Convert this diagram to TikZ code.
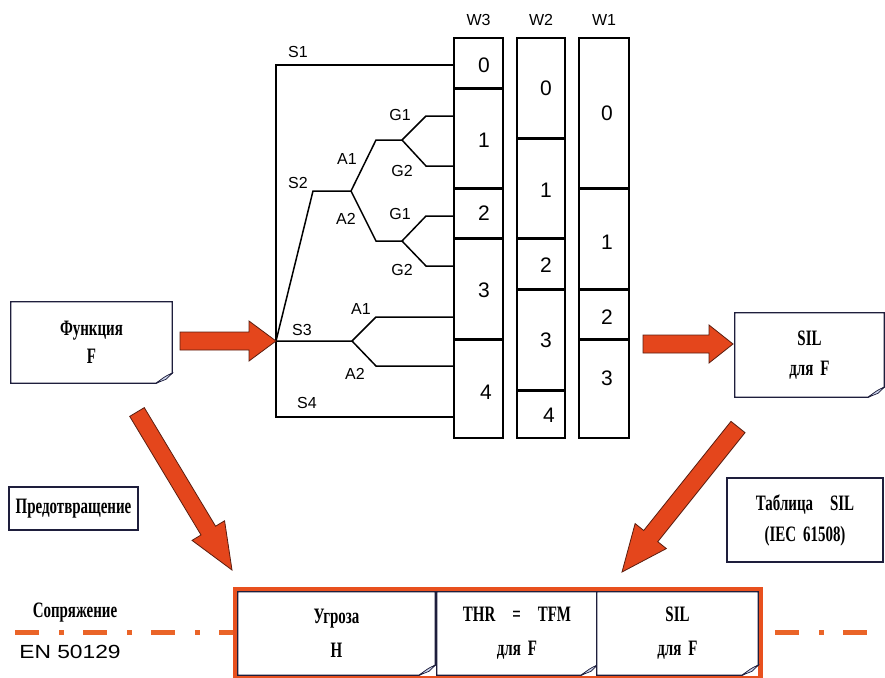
\documentclass[tikz,border=0pt]{standalone}
\usepackage{fontspec}
\usetikzlibrary{calc}
\setmainfont{Liberation Serif}
\newfontfamily\notefont[FakeStretch=0.68]{Liberation Serif}
\newfontfamily\tagfont{Liberation Sans}
\newfontfamily\stdfont[FakeStretch=1.2]{Liberation Sans}
\definecolor{edgeblue}{HTML}{1E1E3C}
\definecolor{arrowred}{HTML}{E4461C}
\definecolor{arrowedge}{HTML}{5A1E10}
\definecolor{framered}{HTML}{E8501E}
\definecolor{dashorange}{HTML}{EA6428}
\definecolor{foldblue}{HTML}{C8D0E8}

% outline of a sheet with a turned-up corner
\newcommand\noteedge[1]{%
  \draw[edgeblue, line width=1.3pt] (#1.north west) -- (#1.north east) -- ([yshift=10pt]#1.south east) -- ([xshift=-16pt]#1.south east) -- (#1.south west) -- cycle;
  \filldraw[draw=edgeblue, fill=foldblue, line width=0.7pt] ([xshift=-16pt]#1.south east) -- ([xshift=-6pt,yshift=4pt]#1.south east) -- ([yshift=10pt]#1.south east) .. controls ([xshift=-7pt,yshift=7pt]#1.south east) .. ([xshift=-16pt]#1.south east);
}
% block arrow: from, to, body half width, head half width, head length
\newcommand\fatarrow[5]{%
  \coordinate (fa-h) at ($(#2)!#5pt!(#1)$);
  \filldraw[arrowbody] ($(#1)!#3pt!90:(#2)$) -- ($(fa-h)!#3pt!-90:(#1)$) -- ($(fa-h)!#4pt!-90:(#1)$) -- (#2)
    -- ($(fa-h)!#4pt!90:(#1)$) -- ($(fa-h)!#3pt!90:(#1)$) -- ($(#1)!#3pt!-90:(#2)$) -- cycle;
}
\newcommand\wgap{\hspace*{17pt}}
\newcommand\ngap{\hspace*{7pt}}

\begin{document}
\begin{tikzpicture}[x=1pt, y=-1pt,
    note/.style={fill=white, font=\notefont\bfseries\fontsize{22}{30}\selectfont, align=center, inner sep=0pt},
    plainbox/.style={note, draw=edgeblue, line width=1.3pt},
    tag/.style={font=\tagfont\fontsize{16}{18}\selectfont, inner sep=0pt},
    digit/.style={font=\tagfont\fontsize{21}{23}\selectfont, inner sep=0pt},
    wire/.style={line width=1.5pt},
    column/.style={draw, line width=1.4pt, minimum height=400pt, inner sep=0pt},
    sep/.style={line width=3pt},
    link/.style={draw=dashorange, line width=5pt, dash pattern=on 24pt off 20pt on 5pt off 19pt},
    arrowbody/.style={fill=arrowred, draw=arrowedge, line width=0.8pt, line join=miter}]
  \useasboundingbox (0,0) rectangle (885,677);

  % weight columns
  \node[column, minimum width=49pt] (w3) at (478.5,238) {};
  \node[column, minimum width=48pt] (w2) at (541,238) {};
  \node[column, minimum width=50pt] (w1) at (604,238) {};
  \node[tag] (hw3) at (478.5,20) {W3};
  \node[tag] (hw2) at (541,20) {W2};
  \node[tag] (hw1) at (604,20) {W1};
  \foreach \y in {88,188,238,339} \draw[sep] (454,\y) -- (503,\y);
  \foreach \y in {138,238,289,390} \draw[sep] (517,\y) -- (565,\y);
  \foreach \y in {188,289,339} \draw[sep] (579,\y) -- (629,\y);
  \foreach \x/\y/\t [count=\i] in {484/65/0, 484/140/1, 484/213/2, 484/290/3, 486/392/4,
      546/88/0, 546/190/1, 546/265/2, 546/340/3, 549/415/4,
      607/113/0, 607/242/1, 607/317/2, 607/378/3}
    \node[digit] (d\i) at (\x,\y) {\t};

  % risk graph
  \coordinate (root) at (276,341);
  \coordinate (top) at (276,65);
  \coordinate (bot) at (276,417);
  \coordinate (s2a) at (313,191);
  \coordinate (s2b) at (351,191);
  \coordinate (a1a) at (376,140);
  \coordinate (a1b) at (402,140);
  \coordinate (g11) at (426,116);
  \coordinate (g12) at (426,166);
  \coordinate (a2a) at (376,241);
  \coordinate (a2b) at (402,241);
  \coordinate (g21) at (426,216);
  \coordinate (g22) at (426,266);
  \coordinate (s3b) at (352,341);
  \coordinate (s3u) at (376,317);
  \coordinate (s3d) at (376,366);
  \draw[wire] (w3.west |- top) -- (top) -- (bot) -- (w3.west |- bot);
  \draw[wire] (root) -- (s2a) -- (s2b) -- (a1a) -- (a1b) -- (g11) -- (g11 -| w3.west);
  \draw[wire] (a1b) -- (g12) -- (g12 -| w3.west);
  \draw[wire] (s2b) -- (a2a) -- (a2b) -- (g21) -- (g21 -| w3.west);
  \draw[wire] (a2b) -- (g22) -- (g22 -| w3.west);
  \draw[wire] (root) -- (s3b) -- (s3u) -- (s3u -| w3.west);
  \draw[wire] (s3b) -- (s3d) -- (s3d -| w3.west);
  \foreach \x/\y/\t [count=\i] in {298/52/S1, 298/183/S2, 302/330/S3, 307/403/S4,
      347/159/A1, 346/219/A2, 400/115/G1, 402/171/G2, 400/214/G1, 402/270/G2,
      361/309/A1, 355/374/A2}
    \node[tag] (l\i) at (\x,\y) {\t};

  % sheets
  \node[note, minimum width=161pt, minimum height=81pt] (func) at (91.5,342.5) {Функция\\[-2pt]F};
  \noteedge{func}
  \node[note, minimum width=149pt, minimum height=84pt] (silF) at (809.5,355) {SIL\\для\ngap F};
  \noteedge{silF}
  \node[plainbox, minimum width=129pt, minimum height=43pt] (prev) at (73.5,508.5) {Предотвращение};
  \node[plainbox, minimum width=156pt, minimum height=84pt] (table) at (805,520) {Таблица\wgap SIL\\[1pt](IEC\ngap 61508)};

  % interface line and result
  \coordinate (dl) at (15,632);
  \coordinate (dr) at (775,632);
  \coordinate (dre) at (870,632);
  \node[draw=framered, line width=5pt, minimum width=524.5pt, minimum height=88.5pt, inner sep=0pt] (pair) at (497.75,633.75) {};
  \draw[link] (dl) -- (dl -| pair.west);
  \draw[link] (dr) -- (dre);
  \node[note, minimum width=197pt, minimum height=83pt] (threat) at (336.5,633.5) {Угроза\\[4pt]H};
  \noteedge{threat}
  \node[note, minimum width=160pt, minimum height=83pt] (thr) at (517,633.5) {THR\wgap=\wgap TFM\\[4pt]для\ngap F};
  \noteedge{thr}
  \node[note, minimum width=161pt, minimum height=83pt] (silH) at (677.5,633.5) {SIL\\[4pt]для\ngap F};
  \noteedge{silH}
  \node[font=\notefont\bfseries\fontsize{22}{24}\selectfont, inner sep=0pt] (iface) at (75,613) {Сопряжение};
  \node[font=\stdfont\fontsize{19}{22}\selectfont, inner sep=0pt] (std) at (70,652) {EN 50129};

  % block arrows
  \coordinate (fa1) at (180,341);
  \coordinate (fa2) at (643,344);
  \coordinate (fa2t) at (733,344);
  \coordinate (fa3) at (137,412);
  \coordinate (fa3t) at (232,570);
  \coordinate (fa4) at (738,427);
  \coordinate (fa4t) at (622,572);
  \fatarrow{fa1}{root}{9}{20}{27}
  \fatarrow{fa2}{fa2t}{9}{19}{24}
  \fatarrow{fa3}{fa3t}{8.5}{19}{46}
  \fatarrow{fa4}{fa4t}{9}{20}{46}
\end{tikzpicture}
\end{document}
